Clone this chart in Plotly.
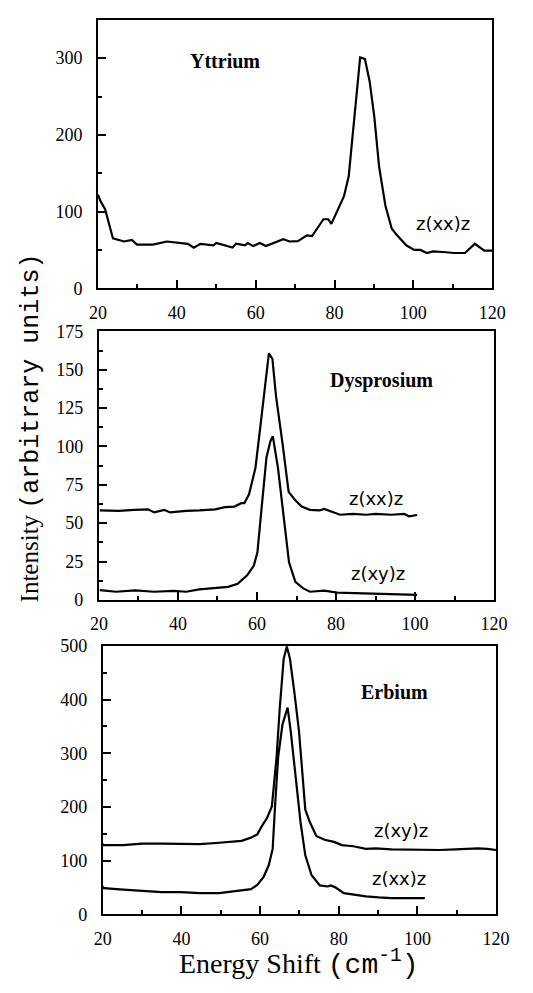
import plotly.graph_objects as go

# ---------------- data ----------------
# Yttrium z(xx)z
y_x = [20, 20.6, 21.8, 23.8, 26.6, 28.6, 29.9, 33.9, 37.5, 42.8, 44.3, 46, 49.3, 50, 54.1, 55, 57.3, 58,
       59.4, 61, 62.6, 64.6, 67, 68.6, 70.7, 73, 74.3, 77.2, 78.4, 79.2, 80.8, 82.4, 83.6, 84.8, 86, 86.5,
       87.7, 88.9, 90.1, 91.3, 92.9, 94.5, 95.7, 98.2, 100.2, 101.8, 103.4, 105, 108.3, 110.3, 113.1,
       115.6, 118, 120]
y_xx = [122, 114, 103, 65, 61, 63, 57, 57, 61, 58, 53, 58, 56, 59, 53, 58, 56, 59,
        55, 59, 55, 59, 64, 61, 61.5, 69, 68, 90, 90, 84, 103, 120, 146, 214, 279, 301,
        299, 270, 223, 159, 108, 78, 70, 56, 50, 50, 46, 48, 47, 46, 46,
        58, 49, 49]

# Dysprosium z(xx)z
dy_x_xx = [20.2, 25, 29, 32.4, 34, 36.5, 38, 42.1, 45.4, 49.4, 51.9, 54.3, 56, 56.8, 58, 59.6, 60.8, 62,
           63, 63.9, 64.8, 66.5, 68, 69.7, 71.3, 73.4, 75.8, 77, 78.6, 81, 84.3, 87.6, 90, 94, 97.3, 98.5,
           100.5]
dy_xx = [58.3, 58, 58.7, 59, 57, 58.7, 57, 58, 58.3, 59, 60.4, 60.8, 63, 63, 69, 86, 112, 138,
         160.7, 157, 133, 101, 70.4, 65, 60.8, 58.7, 58.3, 59.3, 57.6, 55.5, 56, 55.5, 56, 55.5, 56, 54.4,
         55.3]
# Dysprosium z(xy)z
dy_x_xy = [20.2, 24.3, 29.2, 34, 38.9, 42.1, 45.4, 49.4, 52.7, 55.1, 57.5, 59.2, 60.1, 61.2, 62.4, 63.4,
           64, 65.3, 66.6, 68.1, 69.7, 71.7, 73.4, 77, 80.3, 86, 90, 94, 96.5, 100.5]
dy_xy = [6.4, 5.3, 6.2, 5.3, 5.8, 5.3, 6.8, 7.5, 8.5, 10.5, 16, 22.4, 31, 61, 93, 103.5,
         106.7, 86, 56.5, 24.5, 11.7, 7.5, 5.3, 6, 4.7, 4.3, 3.8, 3.8, 3.2, 3.2]

# Erbium z(xy)z
er_x_xy = [20, 20.3, 25.2, 30, 35, 39.8, 44.7, 48.8, 52.9, 55.3, 57.7, 59.3, 60.5, 61.8, 63, 63.5, 64.2,
           65, 66, 66.8, 67.6, 68.7, 69.9, 70.7, 71.5, 72.7, 74.3, 76.4, 78.8, 80.8, 83.7, 86.9, 89.4,
           93.4, 99.9, 105.6, 109.7, 115.4, 117.8, 120]
er_xy = [131, 129, 129, 131.7, 131.7, 131, 131, 133, 135, 137, 143, 149, 165, 180, 201, 244, 293,
         384, 476, 499, 476, 415, 341, 268, 195, 171, 146, 139, 135, 129, 127, 122, 123,
         121, 120, 120, 121, 123, 122, 120]
# Erbium z(xx)z
er_x_xx = [20, 20.3, 25.2, 30, 35, 39.8, 44.7, 49.6, 52.8, 57.7, 59.3, 60.9, 62.2, 63.2, 63.8, 64.6,
           65.7, 67, 67.8, 69, 70.3, 71.5, 73.1, 75.2, 77.2, 78, 79.2, 81.3, 83.7, 86.9, 90.2, 93.4,
           97.5, 101.9]
er_xx = [52, 49, 46, 44, 41.5, 41.5, 39.6, 39.6, 42.7, 47, 55, 70, 91.5, 122, 201, 293,
         354, 385, 341, 262, 171, 110, 73, 54, 52, 54, 50, 39.6, 36.6, 33.5, 31.7, 30.5,
         30.5, 30.5]

x_ticks = [20, 40, 60, 80, 100, 120]

# ---------------- figure ----------------
SERIF = "Liberation Serif, Times New Roman, serif"
LINE = dict(color="black", width=2.2)

fig = go.Figure()
fig.add_trace(go.Scatter(x=y_x, y=y_xx, mode="lines", line=LINE, xaxis="x", yaxis="y"))
fig.add_trace(go.Scatter(x=dy_x_xx, y=dy_xx, mode="lines", line=LINE, xaxis="x2", yaxis="y2"))
fig.add_trace(go.Scatter(x=dy_x_xy, y=dy_xy, mode="lines", line=LINE, xaxis="x2", yaxis="y2"))
fig.add_trace(go.Scatter(x=er_x_xy, y=er_xy, mode="lines", line=LINE, xaxis="x3", yaxis="y3"))
fig.add_trace(go.Scatter(x=er_x_xx, y=er_xx, mode="lines", line=LINE, xaxis="x3", yaxis="y3"))

tickfont = dict(family=SERIF, size=18, color="black")


def xax(domain, anchor):
    return dict(domain=domain, anchor=anchor, range=[20, 120], tickvals=x_ticks,
                ticks="inside", ticklen=8, tickwidth=1.5, tickcolor="black",
                minor=dict(dtick=10, ticks="inside", ticklen=4, tickwidth=1.5, tickcolor="black"),
                showline=True, linecolor="black", linewidth=2, mirror=True,
                showgrid=False, zeroline=False, tickfont=tickfont, ticklabelstandoff=7)


def yax(domain, anchor, rng, dtick, minor):
    return dict(domain=domain, anchor=anchor, range=rng, dtick=dtick, tick0=0,
                ticks="inside", ticklen=8, tickwidth=1.5, tickcolor="black",
                minor=dict(dtick=minor, ticks="inside", ticklen=4, tickwidth=1.5, tickcolor="black"),
                showline=True, linecolor="black", linewidth=2, mirror=True,
                showgrid=False, zeroline=False, tickfont=tickfont, ticklabelstandoff=10)


H = 993.0
W = 533.0
fig.update_layout(
    width=533, height=993,
    margin=dict(l=0, r=0, t=0, b=0),
    paper_bgcolor="white", plot_bgcolor="white",
    showlegend=False,
    xaxis=xax([93 / W, 505 / W], "y"),
    yaxis=yax([1 - 284 / H, 1 - 10 / H], "x", [0, 350], 100, 50),
    xaxis2=xax([94 / W, 507 / W], "y2"),
    yaxis2=yax([1 - 602 / H, 1 - 328 / H], "x2", [0, 175], 25, 12.5),
    xaxis3=xax([98 / W, 509 / W], "y3"),
    yaxis3=yax([1 - 923 / H, 1 - 649 / H], "x3", [0, 500], 100, 50),
)

lab_font = dict(family="DejaVu Sans", size=18, color="black")
title_font = dict(family=SERIF, size=20, color="black")
ann = [
    dict(x=52.3, y=296, xref="x", yref="y", text="<b>Yttrium</b>", font=title_font),
    dict(x=107.6, y=85, xref="x", yref="y", text="z(xx)z", font=lab_font),
    dict(x=91.4, y=143, xref="x2", yref="y2", text="<b>Dysprosium</b>", font=title_font),
    dict(x=90, y=66, xref="x2", yref="y2", text="z(xx)z", font=lab_font),
    dict(x=90.7, y=17, xref="x2", yref="y2", text="z(xy)z", font=lab_font),
    dict(x=94.2, y=414, xref="x3", yref="y3", text="<b>Erbium</b>", font=title_font),
    dict(x=95.9, y=157, xref="x3", yref="y3", text="z(xy)z", font=lab_font),
    dict(x=95.4, y=66, xref="x3", yref="y3", text="z(xx)z", font=lab_font),
    dict(x=23 / W, y=1 - 427 / H, xref="paper", yref="paper", textangle=-90,
         text="Intensity <span style='font-family:Liberation Mono'>(arbitrary units)</span>",
         font=dict(family=SERIF, size=25, color="black")),
    dict(x=303 / W, y=0.0, xref="paper", yref="paper", yanchor="bottom",
         text="Energy Shift <span style='font-family:Liberation Mono'>(cm<sup>-1</sup>)</span>",
         font=dict(family=SERIF, size=28, color="black")),
]
for a in ann:
    a.setdefault("showarrow", False)
    a.setdefault("xanchor", "center")
    a.setdefault("yanchor", "middle")
fig.update_layout(annotations=ann)

fig.write_html("out.html")
